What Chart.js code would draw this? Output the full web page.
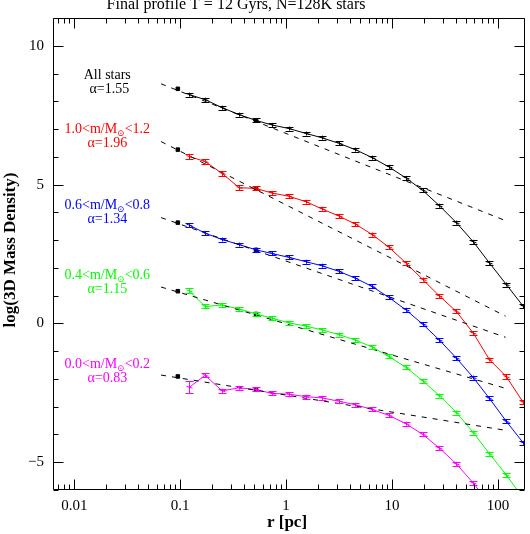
<!DOCTYPE html>
<html lang="en">
  <head>
    <meta charset="UTF-8" />
    <title>Final profile</title>
    <script src="https://cdn.jsdelivr.net/npm/chart.js"></script>
    <style>
      html, body { margin: 0; padding: 0; background: #fff; }
      #wrap { width: 530px; height: 534px; }
    </style>
  </head>
  <body>
    <div id="wrap"><canvas id="chart" width="530" height="534"></canvas></div>
    <script>
      // radial bins (pc)
      const rBins = [0.122, 0.172, 0.249, 0.36, 0.52, 0.73, 1.06, 1.55, 2.16, 3.13, 4.5,
        6.5, 9.3, 13.5, 19.5, 28, 40.5, 58.5, 83, 120, 173];

      // log(3D mass density) per mass group
      const allStars = [8.24, 8.06, 7.77, 7.52, 7.31, 7.15, 7.02, 6.84, 6.69, 6.49, 6.26,
        5.97, 5.64, 5.24, 4.79, 4.24, 3.63, 2.94, 2.18, 1.40, 0.62];
      const m10to12 = [6.01, 5.83, 5.40, 4.89, 4.86, 4.70, 4.58, 4.38, 4.13, 3.87, 3.58,
        3.20, 2.75, 2.18, 1.58, 0.99, 0.43, -0.35, -1.30, -1.92, -2.84];
      const m06to08 = [3.54, 3.25, 3.02, 2.84, 2.65, 2.52, 2.38, 2.22, 2.08, 1.88, 1.63,
        1.33, 0.94, 0.49, -0.03, -0.60, -1.25, -1.95, -2.70, -3.53, -4.30];
      const m04to06 = [1.17, 0.61, 0.66, 0.52, 0.34, 0.19, 0.02, -0.10, -0.23, -0.40, -0.60,
        -0.85, -1.19, -1.58, -2.07, -2.60, -3.21, -3.93, -4.69, -5.46, -6.30];
      const m00to02 = [-2.30, -1.87, -2.43, -2.32, -2.38, -2.52, -2.55, -2.64, -2.68, -2.80, -2.93,
        -3.10, -3.31, -3.61, -4.00, -4.49, -5.06, -5.75, -6.50, null, null];

      // error bars (half height)
      const errAll = [0.05, 0.04, 0.04, 0.04, 0.04, 0.04, 0.04, 0.04, 0.04, 0.04, 0.04,
        0.04, 0.04, 0.04, 0.04, 0.04, 0.04, 0.04, 0.04, 0.04, 0.04];
      const err10to12 = [0.10, 0.08, 0.09, 0.09, 0.06, 0.06, 0.05, 0.05, 0.05, 0.05, 0.05,
        0.05, 0.05, 0.06, 0.06, 0.06, 0.07, 0.07, 0.07, 0.08, 0.08];
      const err06to08 = [0.06, 0.05, 0.05, 0.04, 0.04, 0.04, 0.04, 0.04, 0.04, 0.04, 0.04,
        0.04, 0.04, 0.04, 0.04, 0.04, 0.04, 0.04, 0.04, 0.05, 0.05];
      const err04to06 = [0.09, 0.06, 0.05, 0.05, 0.04, 0.04, 0.04, 0.04, 0.04, 0.04, 0.04,
        0.04, 0.04, 0.04, 0.04, 0.04, 0.04, 0.04, 0.04, 0.04, 0.04];
      const err00to02 = [0.22, 0.07, 0.06, 0.05, 0.04, 0.04, 0.04, 0.04, 0.04, 0.04, 0.04,
        0.04, 0.04, 0.04, 0.04, 0.04, 0.04, 0.04, 0.04, 0.04, 0.04];

      // inner points (black dots) at r = 0.095 and 0.52
      const dotR = [0.095, 0.52];
      const dotAll = [8.45, 7.31];
      const dot10to12 = [6.26, 4.86];
      const dot06to08 = [3.63, 2.65];
      const dot04to06 = [1.16, 0.34];
      const dot00to02 = [-1.91, -2.38];

      // power-law fits (dashed), endpoints
      const fitR = [0.066, 118];
      const fitAll = [8.63, 3.70];
      const fit10to12 = [6.55, 0.26];
      const fit06to08 = [3.81, -0.50];
      const fit04to06 = [1.31, -2.34];
      const fit00to02 = [-1.86, -3.85];

      const groupNames = ["All stars", "1.0<m/M|<1.2", "0.6<m/M|<0.8", "0.4<m/M|<0.6", "0.0<m/M|<0.2"];
      const alphas = ["1.55", "1.96", "1.34", "1.15", "0.83"];
      const colors = ["#000000", "#ff0000", "#0000ff", "#00ff00", "#ff00ff"];
      const labelY = [8.93, 6.99, 4.25, 1.73, -1.49];

      const xTickValues = [0.01, 0.1, 1, 10, 100];
      const xTickLabels = ["0.01", "0.1", "1", "10", "100"];
      const yTickValues = [-5, 0, 5, 10];

      const series = [allStars, m10to12, m06to08, m04to06, m00to02];
      const errs = [errAll, err10to12, err06to08, err04to06, err00to02];
      const dots = [dotAll, dot10to12, dot06to08, dot04to06, dot00to02];
      const fits = [fitAll, fit10to12, fit06to08, fit04to06, fit00to02];

      const FONT = "'Liberation Serif', 'DejaVu Serif', serif";

      const datasets = [];
      fits.forEach((f) => {
        datasets.push({
          type: "line",
          data: fitR.map((r, i) => ({ x: r, y: f[i] })),
          borderColor: "#000",
          borderWidth: 1,
          borderDash: [5, 6],
          pointRadius: 0,
        });
      });
      series.forEach((s, k) => {
        datasets.push({
          type: "line",
          data: rBins.map((r, i) => ({ x: r, y: s[i] })),
          errors: errs[k],
          borderColor: colors[k],
          borderWidth: 1,
          pointRadius: 0,
          spanGaps: false,
        });
      });
      dots.forEach((d) => {
        datasets.push({
          type: "scatter",
          data: dotR.map((r, i) => ({ x: r, y: d[i] })),
          backgroundColor: "#000",
          borderColor: "#000",
          pointStyle: "rect",
          pointRadius: 2.5,
        });
      });

      const errorBars = {
        id: "errorBars",
        afterDatasetsDraw(chart) {
          const { ctx, chartArea: a } = chart;
          const ys = chart.scales.y;
          ctx.save();
          ctx.beginPath();
          ctx.rect(a.left, a.top, a.right - a.left, a.bottom - a.top);
          ctx.clip();
          chart.data.datasets.forEach((ds, di) => {
            if (!ds.errors) return;
            const meta = chart.getDatasetMeta(di);
            ctx.strokeStyle = ds.borderColor;
            ctx.lineWidth = 1;
            meta.data.forEach((pt, i) => {
              const v = ds.data[i].y;
              if (v === null) return;
              const e = ds.errors[i];
              let y1 = ys.getPixelForValue(v + e);
              let y2 = ys.getPixelForValue(v - e);
              if (y2 - y1 < 4) { y1 = pt.y - 2; y2 = pt.y + 2; }
              const x = Math.round(pt.x) + 0.5;
              ctx.beginPath();
              ctx.moveTo(x, y1); ctx.lineTo(x, y2);
              ctx.moveTo(x - 4, Math.round(y1) + 0.5); ctx.lineTo(x + 4, Math.round(y1) + 0.5);
              ctx.moveTo(x - 4, Math.round(y2) + 0.5); ctx.lineTo(x + 4, Math.round(y2) + 0.5);
              ctx.moveTo(x - 3, pt.y - 1); ctx.lineTo(x + 3, pt.y + 1);
              ctx.stroke();
            });
          });
          ctx.restore();
        },
      };

      function drawMassLabel(ctx, text, cx, cy) {
        const parts = text.split("|");
        ctx.font = "14px " + FONT;
        const w0 = ctx.measureText(parts[0]).width;
        const w2 = parts.length > 1 ? ctx.measureText(parts[1]).width : 0;
        ctx.font = "9px " + FONT;
        const w1 = parts.length > 1 ? ctx.measureText("\u2299").width : 0;
        let x = cx - (w0 + w1 + w2) / 2;
        ctx.textAlign = "left";
        ctx.font = "14px " + FONT;
        ctx.fillText(parts[0], x, cy);
        if (parts.length > 1) {
          x += w0;
          ctx.font = "9px " + FONT;
          ctx.fillText("\u2299", x, cy + 4);
          x += w1;
          ctx.font = "14px " + FONT;
          ctx.fillText(parts[1], x, cy);
        }
      }

      const frame = {
        id: "frame",
        afterDraw(chart) {
          const { ctx, chartArea: a } = chart;
          const xs = chart.scales.x, ys = chart.scales.y;
          ctx.save();
          ctx.strokeStyle = "#000";
          ctx.lineWidth = 1;
          const L = Math.round(a.left) + 0.5, R = Math.round(a.right) - 0.5;
          const T = Math.round(a.top) + 0.5, B = Math.round(a.bottom) - 0.5;
          ctx.beginPath();
          ctx.rect(L, T, R - L, B - T);
          // x ticks
          for (let d = -3; d <= 2; d++) {
            for (let m = 1; m <= 9; m++) {
              const v = m * Math.pow(10, d);
              if (v < xs.min || v > xs.max) continue;
              const px = Math.round(xs.getPixelForValue(v)) + 0.5;
              const len = m === 1 ? 10 : 5;
              ctx.moveTo(px, B); ctx.lineTo(px, B - len);
              ctx.moveTo(px, T); ctx.lineTo(px, T + len);
            }
          }
          // y ticks
          for (let v = -6; v <= 11; v++) {
            const py = Math.round(ys.getPixelForValue(v)) + 0.5;
            const len = v % 5 === 0 ? 10 : 5;
            ctx.moveTo(L, py); ctx.lineTo(L + len, py);
            ctx.moveTo(R, py); ctx.lineTo(R - len, py);
          }
          ctx.stroke();

          ctx.fillStyle = "#000";
          ctx.textAlign = "center";
          ctx.textBaseline = "middle";
          ctx.font = "16px " + FONT;
          ctx.fillText("Final profile T = 12 Gyrs, N=128K stars", 236, 5);
          ctx.font = "bold 17px " + FONT;
          ctx.fillText("r [pc]", 287, 523);
          ctx.save();
          ctx.translate(11, 250);
          ctx.rotate(-Math.PI / 2);
          ctx.fillText("log(3D Mass Density)", 0, 0);
          ctx.restore();

          // group labels
          const lx = xs.getPixelForValue(0.0205);
          groupNames.forEach((name, k) => {
            ctx.fillStyle = colors[k];
            const py = ys.getPixelForValue(labelY[k]);
            drawMassLabel(ctx, name, lx, py);
            ctx.textAlign = "center";
            ctx.font = "14px " + FONT;
            ctx.fillText("\u03b1=" + alphas[k], lx + (k === 0 ? 2 : 0), py + 14);
          });
          ctx.restore();
        },
      };

      new Chart(document.getElementById("chart"), {
        data: { datasets },
        options: {
          responsive: false,
          animation: false,
          events: [],
          layout: { padding: { top: 14, right: 2, left: 0, bottom: 0 } },
          plugins: { legend: { display: false }, tooltip: { enabled: false }, title: { display: false } },
          scales: {
            x: {
              type: "logarithmic",
              min: 0.0063,
              max: 180,
              grid: { display: false, drawTicks: false },
              border: { display: false },
              afterBuildTicks: (s) => { s.ticks = xTickValues.map((v) => ({ value: v })); },
              afterFit: (s) => { s.height = 44; },
              ticks: {
                autoSkip: false,
                maxRotation: 0,
                padding: 7,
                color: "#000",
                font: { family: FONT, size: 15 },
                callback: (v, i) => xTickLabels[i],
              },
            },
            y: {
              type: "linear",
              min: -6,
              max: 11,
              grid: { display: false, drawTicks: false },
              border: { display: false },
              afterBuildTicks: (s) => { s.ticks = yTickValues.map((v) => ({ value: v })); },
              afterFit: (s) => { s.width = 53; },
              ticks: {
                padding: 9,
                color: "#000",
                font: { family: FONT, size: 15 },
                callback: (v) => (v < 0 ? "\u2212" + Math.abs(v) : String(v)),
              },
            },
          },
        },
        plugins: [errorBars, frame],
      });
    </script>
  </body>
</html>
